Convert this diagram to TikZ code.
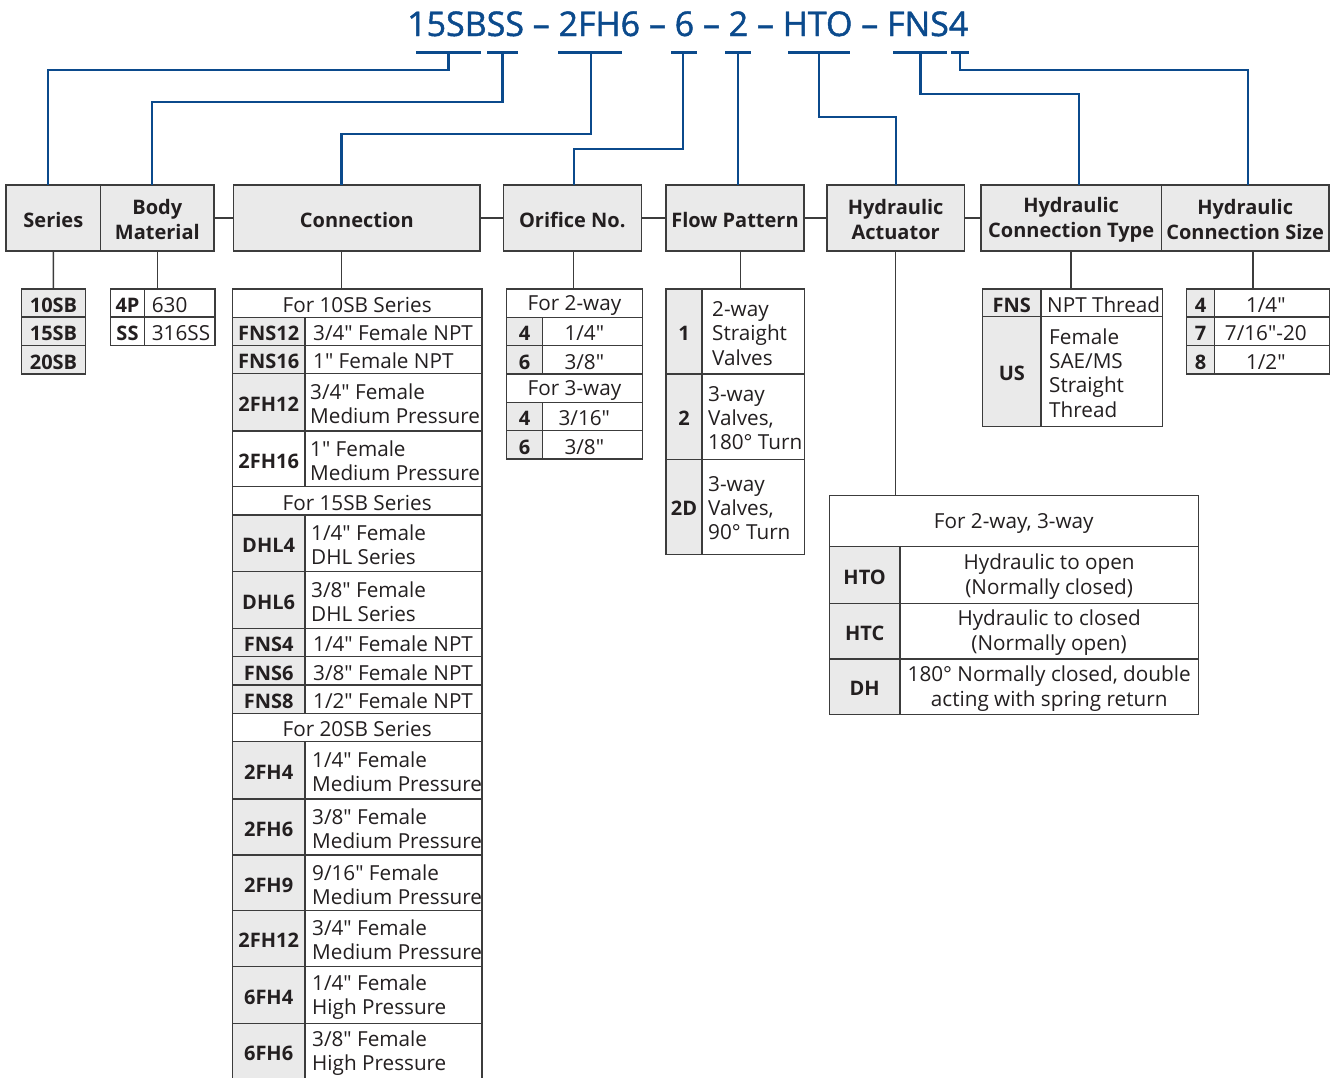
\documentclass[tikz,border=0pt]{standalone}
\usepackage{fontspec}
\newfontfamily\osans{Open Sans}
\newfontfamily\tsans[FakeBold=1.3]{Open Sans}
\usepackage{graphicx}
\definecolor{bord}{HTML}{3C3C3C}
\definecolor{gfill}{HTML}{EAEAEA}
\definecolor{txt}{HTML}{231F20}
\definecolor{blu}{HTML}{0B4A8C}
\newcommand\myst{\rule[-1pt]{0pt}{20.3pt}}
\newcommand\cbox[6]{%
  \pgfmathsetmacro\cw{#4-#2}\pgfmathsetmacro\ch{#5-#3}%
  \node[cellbox, fill=#6, minimum width=\cw pt, minimum height=\ch pt] (#1) at ({(#2+#4)/2},{(#3+#5)/2}) {};}
\newcommand\mykt[2]{\node[ktext] (#1-t) at (#1.center) {\myst #2\myst};}
\newcommand\myct[2]{\node[ctext] (#1-t) at (#1.center) {\myst #2\myst};}
\newcommand\myxt[3]{\node[ctext] (#1-t) at ([xshift=#2pt]#1.center) {\myst #3\myst};}
\newcommand\mylt[3]{\node[ltext] (#1-t) at ([xshift=#2pt]#1.west) {\myst #3\myst};}
\newcommand\myht[2]{\node[htext] (#1-t) at (#1.center) {\myst #2\myst};}
\begin{document}
\begin{tikzpicture}[x=1pt,y=-1pt,
  cellbox/.style={draw=bord, line width=1.2pt, inner sep=0pt, outer sep=0pt, rectangle},
  ctext/.style={inner sep=0pt, font=\osans\fontsize{20.7}{24}\selectfont, text=txt, align=center},
  ktext/.style={ctext, font=\osans\fontsize{20}{24}\selectfont\bfseries},
  ltext/.style={ctext, align=left, anchor=west},
  htext/.style={ctext, font=\osans\fontsize{20}{25}\selectfont\bfseries},
  bline/.style={draw=blu, line width=2.2pt},
  gline/.style={draw=bord, line width=1.5pt}]
\useasboundingbox (0,0) rectangle (1333,1077);
\clip (0,0) rectangle (1333,1077);
% title
\node[anchor=base west, inner sep=0pt, text=blu, font=\tsans\fontsize{34}{40}\selectfont] (title) at (407,36)
  {\resizebox{561pt}{\height}{15SBSS – 2FH6 – 6 – 2 – HTO – FNS4}};
% headers
\cbox{series}{6}{185}{100.7}{251}{gfill} \myht{series}{Series}
\cbox{body}{100.7}{185}{214}{251}{gfill} \myht{body}{Body\\Material}
\cbox{conn}{233.7}{185}{480}{251}{gfill} \myht{conn}{Connection}
\cbox{orif}{503.3}{185}{641.3}{251}{gfill} \myht{orif}{Orifice No.}
\cbox{flow}{666}{185}{804}{251}{gfill} \myht{flow}{Flow Pattern}
\cbox{hact}{827}{185}{964.3}{251}{gfill} \myht{hact}{Hydraulic\\Actuator}
\cbox{hct}{981}{185}{1161.3}{251}{gfill} \myht{hct}{Hydraulic\\Connection Type}
\cbox{hcs}{1161.3}{185}{1329}{251}{gfill} \myht{hcs}{Hydraulic\\Connection Size}
% header links
\draw[gline] (body.east) -- (conn.west);
\draw[gline] (conn.east) -- (orif.west);
\draw[gline] (orif.east) -- (flow.west);
\draw[gline] (flow.east) -- (hact.west);
\draw[gline] (hact.east) -- (hct.west);
% blue code lines
\coordinate (u1a) at (416,52.5); \coordinate (u1b) at (481,52.5); \coordinate (u1m) at (448.5,52.5);
\coordinate (u2a) at (487,52.5); \coordinate (u2b) at (518,52.5); \coordinate (u2m) at (502.5,52.5);
\coordinate (u3a) at (558,52.5); \coordinate (u3b) at (622,52.5); \coordinate (u3m) at (591,52.5);
\coordinate (u4a) at (671,52.5); \coordinate (u4b) at (697,52.5); \coordinate (u4m) at (683,52.5);
\coordinate (u5a) at (725,52.5); \coordinate (u5b) at (751,52.5); \coordinate (u5m) at (738,52.5);
\coordinate (u6a) at (788,52.5); \coordinate (u6b) at (850,52.5); \coordinate (u6m) at (819,52.5);
\coordinate (u7a) at (893,52.5); \coordinate (u7b) at (947,52.5); \coordinate (u7m) at (920.5,52.5);
\coordinate (u8a) at (951,52.5); \coordinate (u8b) at (969,52.5); \coordinate (u8m) at (960,52.5);
\coordinate (p1) at (47.8,185); \coordinate (p2) at (151.8,185); \coordinate (p3) at (341.5,185);
\coordinate (p4) at (573.7,185); \coordinate (p5) at (738,185); \coordinate (p6) at (895.7,185);
\coordinate (p7) at (1079,185); \coordinate (p8) at (1248,185);
\foreach \i in {1,...,8} {\draw[bline] (u\i a) -- (u\i b);}
\draw[bline] (u1m) -- ++(0,17.5) -| (p1);
\draw[bline] (u2m) -- ++(0,49.2) -| (p2);
\draw[bline] (u3m) -- ++(0,81.5) -| (p3);
\draw[bline] (u4m) -- ++(0,96.5) -| (p4);
\draw[bline] (u5m) -- (p5);
\draw[bline] (u6m) -- ++(0,64.8) -| (p6);
\draw[bline] (u7m) -- ++(0,41.8) -| (p7);
\draw[bline] (u8m) -- ++(0,17.5) -| (p8);
% series table
\cbox{s1}{21.3}{289}{85.7}{317}{gfill} \mykt{s1}{10SB}
\cbox{s2}{21.3}{317}{85.7}{345.7}{gfill} \mykt{s2}{15SB}
\cbox{s3}{21.3}{345.7}{85.7}{374}{gfill} \mykt{s3}{20SB}
\draw[gline] (series.south) -- (s1.north);
% body table
\cbox{b1k}{110.3}{289}{144.7}{317}{white} \mykt{b1k}{4P}
\cbox{b1v}{144.7}{289}{215}{317}{white} \mylt{b1v}{7}{630}
\cbox{b2k}{110.3}{317}{144.7}{345.7}{white} \mykt{b2k}{SS}
\cbox{b2v}{144.7}{317}{215}{345.7}{white} \mylt{b2v}{7}{316SS}
\draw[gline] (body.south) -- (body.south |- b1k.north);
% connection table
\cbox{c0}{232.3}{289}{482}{317.3}{white} \myct{c0}{For 10SB Series}
\cbox{c1k}{232.3}{317.3}{305}{345.7}{gfill} \mykt{c1k}{FNS12}
\cbox{c1v}{305}{317.3}{482}{345.7}{white} \mylt{c1v}{8}{3/4" Female NPT}
\cbox{c2k}{232.3}{345.7}{305}{373.3}{gfill} \mykt{c2k}{FNS16}
\cbox{c2v}{305}{345.7}{482}{373.3}{white} \mylt{c2v}{8}{1" Female NPT}
\cbox{c3k}{232.3}{373.3}{305}{431}{gfill} \mykt{c3k}{2FH12}
\cbox{c3v}{305}{373.3}{482}{431}{white} \mylt{c3v}{5}{3/4" Female\\Medium Pressure}
\cbox{c4k}{232.3}{431}{305}{486.7}{white} \mykt{c4k}{2FH16}
\cbox{c4v}{305}{431}{482}{486.7}{white} \mylt{c4v}{5}{1" Female\\Medium Pressure}
\cbox{c5}{232.3}{486.7}{482}{515}{white} \myct{c5}{For 15SB Series}
\cbox{c6k}{232.3}{515}{305}{571.7}{gfill} \mykt{c6k}{DHL4}
\cbox{c6v}{305}{515}{482}{571.7}{white} \mylt{c6v}{6}{1/4" Female\\DHL Series}
\cbox{c7k}{232.3}{571.7}{305}{628.3}{gfill} \mykt{c7k}{DHL6}
\cbox{c7v}{305}{571.7}{482}{628.3}{white} \mylt{c7v}{6}{3/8" Female\\DHL Series}
\cbox{c8k}{232.3}{628.3}{305}{656.7}{gfill} \mykt{c8k}{FNS4}
\cbox{c8v}{305}{628.3}{482}{656.7}{white} \mylt{c8v}{8}{1/4" Female NPT}
\cbox{c9k}{232.3}{656.7}{305}{685}{gfill} \mykt{c9k}{FNS6}
\cbox{c9v}{305}{656.7}{482}{685}{white} \mylt{c9v}{8}{3/8" Female NPT}
\cbox{c10k}{232.3}{685}{305}{713.3}{gfill} \mykt{c10k}{FNS8}
\cbox{c10v}{305}{685}{482}{713.3}{white} \mylt{c10v}{8}{1/2" Female NPT}
\cbox{c11}{232.3}{713.3}{482}{741.7}{white} \myct{c11}{For 20SB Series}
\cbox{c12k}{232.3}{741.7}{305}{799}{gfill} \mykt{c12k}{2FH4}
\cbox{c12v}{305}{741.7}{482}{799}{white} \mylt{c12v}{7}{1/4" Female\\Medium Pressure}
\cbox{c13k}{232.3}{799}{305}{855}{gfill} \mykt{c13k}{2FH6}
\cbox{c13v}{305}{799}{482}{855}{white} \mylt{c13v}{7}{3/8" Female\\Medium Pressure}
\cbox{c14k}{232.3}{855}{305}{910.7}{gfill} \mykt{c14k}{2FH9}
\cbox{c14v}{305}{855}{482}{910.7}{white} \mylt{c14v}{7}{9/16" Female\\Medium Pressure}
\cbox{c15k}{232.3}{910.7}{305}{966.7}{gfill} \mykt{c15k}{2FH12}
\cbox{c15v}{305}{910.7}{482}{966.7}{white} \mylt{c15v}{7}{3/4" Female\\Medium Pressure}
\cbox{c16k}{232.3}{966.7}{305}{1023.3}{gfill} \mykt{c16k}{6FH4}
\cbox{c16v}{305}{966.7}{482}{1023.3}{white} \mylt{c16v}{7}{1/4" Female\\High Pressure}
\cbox{c17k}{232.3}{1023.3}{305}{1080}{gfill} \mykt{c17k}{6FH6}
\cbox{c17v}{305}{1023.3}{482}{1080}{white} \mylt{c17v}{7}{3/8" Female\\High Pressure}
\draw[gline] (p3 |- conn.south) -- (p3 |- c0.north);
% orifice table
\cbox{o0}{506.7}{289}{642.3}{317.3}{white} \myct{o0}{For 2-way}
\cbox{o1k}{506.7}{317.3}{542.3}{345.7}{gfill} \mykt{o1k}{4}
\cbox{o1v}{542.3}{317.3}{642.3}{345.7}{white} \myxt{o1v}{-8}{1/4"}
\cbox{o2k}{506.7}{345.7}{542.3}{374}{gfill} \mykt{o2k}{6}
\cbox{o2v}{542.3}{345.7}{642.3}{374}{white} \myxt{o2v}{-8}{3/8"}
\cbox{o3}{506.7}{374}{642.3}{402.3}{white} \myct{o3}{For 3-way}
\cbox{o4k}{506.7}{402.3}{542.3}{430.7}{gfill} \mykt{o4k}{4}
\cbox{o4v}{542.3}{402.3}{642.3}{430.7}{white} \myxt{o4v}{-8}{3/16"}
\cbox{o5k}{506.7}{430.7}{542.3}{459}{gfill} \mykt{o5k}{6}
\cbox{o5v}{542.3}{430.7}{642.3}{459}{white} \myxt{o5v}{-8}{3/8"}
\draw[gline] (p4 |- orif.south) -- (p4 |- o0.north);
% flow table
\cbox{f1k}{666}{289}{702}{374}{gfill} \mykt{f1k}{1}
\cbox{f1v}{702}{289}{804.3}{374}{white} \mylt{f1v}{10}{2-way\\Straight\\Valves}
\cbox{f2k}{666}{374}{702}{459.3}{gfill} \mykt{f2k}{2}
\cbox{f2v}{702}{374}{804.3}{459.3}{white} \mylt{f2v}{6}{3-way\\Valves,\\180° Turn}
\cbox{f3k}{666}{459.3}{702}{554.3}{gfill} \mykt{f3k}{2D}
\cbox{f3v}{702}{459.3}{804.3}{554.3}{white} \mylt{f3v}{6}{3-way\\Valves,\\90° Turn}
\coordinate (q5) at (740.7,0);
\draw[gline] (q5 |- flow.south) -- (q5 |- f1k.north);
% hydraulic actuator table
\cbox{h0}{829.3}{495.7}{1198.3}{546.7}{white} \myct{h0}{For 2-way, 3-way}
\cbox{h1k}{829.3}{546.7}{900}{603.3}{gfill} \mykt{h1k}{HTO}
\cbox{h1v}{900}{546.7}{1198.3}{603.3}{white} \myct{h1v}{Hydraulic to open\\(Normally closed)}
\cbox{h2k}{829.3}{603.3}{900}{659}{gfill} \mykt{h2k}{HTC}
\cbox{h2v}{900}{603.3}{1198.3}{659}{white} \myct{h2v}{Hydraulic to closed\\(Normally open)}
\cbox{h3k}{829.3}{659}{900}{714.3}{gfill} \mykt{h3k}{DH}
\cbox{h3v}{900}{659}{1198.3}{714.3}{white} \myct{h3v}{180° Normally closed, double\\acting with spring return}
\draw[gline] (hact.south) -- (hact.south |- h0.north);
% hydraulic connection type
\cbox{k1k}{982.7}{289}{1041}{316.7}{gfill} \mykt{k1k}{FNS}
\cbox{k1v}{1041}{289}{1162.3}{316.7}{white} \mylt{k1v}{6}{NPT Thread}
\cbox{k2k}{982.7}{316.7}{1041}{426.7}{gfill} \mykt{k2k}{US}
\cbox{k2v}{1041}{316.7}{1162.3}{426.7}{white} \mylt{k2v}{8}{Female\\SAE/MS\\Straight\\Thread}
\draw[gline] (hct.south) -- (hct.south |- k1k.north);
% hydraulic connection size
\cbox{z1k}{1186.7}{289}{1214.3}{317}{gfill} \mykt{z1k}{4}
\cbox{z1v}{1214.3}{289}{1329.3}{317}{white} \myxt{z1v}{-6}{1/4"}
\cbox{z2k}{1186.7}{317}{1214.3}{345.7}{gfill} \mykt{z2k}{7}
\cbox{z2v}{1214.3}{317}{1329.3}{345.7}{white} \myxt{z2v}{-6}{7/16"-20}
\cbox{z3k}{1186.7}{345.7}{1214.3}{374}{gfill} \mykt{z3k}{8}
\cbox{z3v}{1214.3}{345.7}{1329.3}{374}{white} \myxt{z3v}{-6}{1/2"}
\coordinate (q8) at (1253,0);
\draw[gline] (q8 |- hcs.south) -- (q8 |- z1k.north);
\end{tikzpicture}
\end{document}
